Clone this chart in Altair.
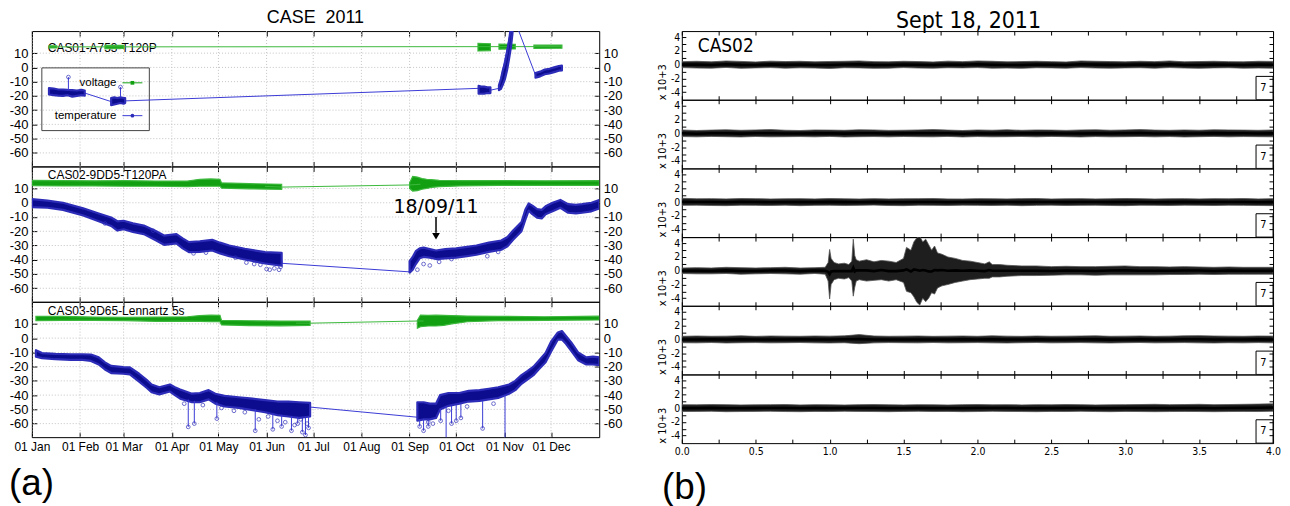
import json
import altair as alt
import pandas as pd

LFONT = "Liberation Sans, Arial, Helvetica, sans-serif"
RFONT = "DejaVu Sans Condensed, Liberation Sans Narrow, Arial Narrow, DejaVu Sans, sans-serif"
BLUE = "#0c0c8e"
BLUE_EDGE = "#2c2cb8"
BLUE_THIN = "#3a3ad6"
GREEN = "#12a012"
GREEN_EDGE = "#3cb83c"
GRID = "#c4c4c4"

# ---------------- (a) CASE 2011 : day-of-year positions ----------------
MONTH_DAYS = [0, 31, 59, 90, 120, 151, 181, 212, 243, 273, 304, 334]
MONTH_NAMES = ["Jan", "Feb", "Mar", "Apr", "May", "Jun", "Jul", "Aug", "Sep", "Oct", "Nov", "Dec"]
TEMP_GRID = [-60, -50, -40, -30, -20, -10, 0, 10]
PANEL_NAMES = ["CAS01-A753-T120P", "CAS02-9DD5-T120PA", "CAS03-9D65-Lennartz 5s"]

# Panel 1 (CAS01)
P1_VOLT_BLOB_SEG = [0, 0, 1, 1, 2, 2, 3, 3, 4, 4]
P1_VOLT_BLOB_DAY = [11, 16, 47, 59, 287, 295, 300.5, 311, 323, 341]
P1_VOLT_BLOB_LO = [13.6, 13.6, 13.2, 13.3, 11.5, 11.8, 12.8, 13.0, 13.4, 13.5]
P1_VOLT_BLOB_HI = [15.2, 15.2, 15.5, 15.4, 16.8, 16.6, 16.3, 16.2, 15.6, 15.7]
P1_VOLT_LINE_DAY = [11, 341]
P1_VOLT_LINE_V = [14.4, 14.6]
P1_TEMP_A_DAY = [11, 14, 17, 20, 23, 26, 29, 32, 34]
P1_TEMP_A_LO = [-19, -19.5, -19.8, -20, -19.5, -20.5, -20, -19.5, -19.8]
P1_TEMP_A_HI = [-14.5, -14.8, -15.5, -15.5, -15.8, -16, -16.2, -15.8, -16.2]
P1_TEMP_B_DAY = [51, 53, 55, 57, 59, 60]
P1_TEMP_B_LO = [-26.5, -26, -25.5, -25, -25.5, -25]
P1_TEMP_B_HI = [-21.5, -21, -21.5, -21, -21.5, -21.5]
P1_TEMP_C_DAY = [287.4, 289, 291, 293, 295]
P1_TEMP_C_LO = [-18.5, -18.5, -18.5, -18, -18]
P1_TEMP_C_HI = [-13, -13.5, -13.5, -14, -14]
P1_TEMP_D_DAY = [300.5, 301.8, 303, 304.4, 305.7, 307, 308.3, 309.2]
P1_TEMP_D_LO = [-16, -15, -12, -8, -2, 6, 15, 24]
P1_TEMP_D_HI = [-12.5, -8, -2, 3, 10, 19, 29, 34]
P1_TEMP_E_DAY = [324, 327, 330, 333, 336, 339, 341]
P1_TEMP_E_LO = [-7.2, -6.3, -4.8, -4.3, -3.3, -2.3, -2.1]
P1_TEMP_E_HI = [-3.9, -3, -1.5, -1, 0, 1, 1.2]
P1_TEMP_LINE_DAY = [34, 51, 60, 287.4, 295, 300.5, 309.2, 311, 324]
P1_TEMP_LINE_V = [-18, -24, -23.5, -14.7, -16, -14.7, 32, 32, -5.4]
P1_SPIKE_DAY = [23.5, 57]
P1_SPIKE_FROM = [-16, -21]
P1_SPIKE_TO = [-6.8, -13.8]

# Panel 2 (CAS02)
P2_VOLT_A_DAY = [0, 20, 40, 60, 80, 100, 108, 115, 121, 122, 140, 160.7]
P2_VOLT_A_LO = [12.0, 11.8, 11.8, 11.6, 11.6, 11.3, 11.6, 11.6, 11.6, 10.3, 9.8, 9.4]
P2_VOLT_A_HI = [15.7, 15.6, 15.4, 15.5, 15.2, 15.2, 16.5, 16.7, 16.5, 14.0, 13.4, 13.0]
P2_VOLT_B_DAY = [243, 245, 248, 251, 254, 257, 262, 275, 300, 330, 365]
P2_VOLT_B_LO = [10, 8.2, 8.5, 9.5, 10, 10.8, 11.3, 11.8, 12.2, 12.2, 12.2]
P2_VOLT_B_HI = [14, 18.5, 18, 17, 16.5, 16.2, 15.8, 15.6, 15.5, 15.4, 15.5]
P2_VOLT_LINE_DAY = [150, 160.7, 243, 250]
P2_VOLT_LINE_V = [11.5, 11, 12.5, 13]
P2_TEMP_A_DAY = [0, 10, 20, 33, 43, 51, 55, 59, 65, 72, 80, 85, 93, 97, 101, 108, 116, 121, 127, 137, 150, 160.7]
P2_TEMP_A_LO = [-3, -3.5, -5, -8.9, -13, -16.3, -19.5, -18.6, -20.5, -22, -26.5, -29.5, -28.5, -32, -34.6, -34.5, -33.5, -35.5, -37.5, -39.8, -42.6, -44.2]
P2_TEMP_A_HI = [2.5, 1.5, 0, -3.9, -7.5, -10.3, -13, -12.6, -14.5, -16, -20, -23, -22, -25, -27.6, -27, -26, -28, -30, -32.3, -34.6, -35.2]
P2_TEMP_B_DAY = [243, 245, 247, 249.5, 252, 256, 260, 266, 273, 280, 286, 294, 302, 306, 309.6, 315, 317.6, 319.6, 322, 325, 328, 330.5, 335, 340, 345, 350, 354, 360, 365]
P2_TEMP_B_LO = [-49, -47, -43, -39, -38, -38.5, -39.5, -39, -38.5, -37.5, -36.5, -34.5, -33, -30.5, -26, -20, -11.5, -5.5, -8, -10.5, -11, -8, -6, -3.5, -7, -7.5, -7, -6, -4]
P2_TEMP_B_HI = [-41, -38, -34, -32, -31.5, -32.5, -33.5, -32.5, -32, -31, -30, -28, -26.5, -24, -19.5, -13.5, -4.5, -0.5, -2, -4.5, -5, -2.5, 0, 2, -1, -1.5, -1, 0, 2]
P2_TEMP_LINE_DAY = [160.7, 161, 243, 244]
P2_TEMP_LINE_V = [-40, -42.5, -48.5, -45]
P2_OUT_DAY = [47, 78, 104, 112, 131, 138, 143, 147, 151, 153, 156, 159, 160, 248, 252, 256, 262, 270, 293, 300]
P2_OUT_V = [-14.5, -19.6, -35.5, -35, -38.5, -42, -43, -43.5, -46.5, -47, -46, -47, -45, -47, -43, -44, -41.5, -39.5, -37.5, -34.5]

# Panel 3 (CAS03)
P3_VOLT_A_DAY = [2.6, 20, 40, 60, 80, 100, 108, 115, 121, 122, 140, 160, 179]
P3_VOLT_A_LO = [12.3, 12.5, 12.5, 12.3, 11.8, 12, 11.8, 11.5, 11.5, 9.3, 8.8, 8.6, 9]
P3_VOLT_A_HI = [15.3, 15.2, 14.8, 14.6, 14.8, 15, 15.8, 16.2, 16, 12.5, 12.2, 12, 12]
P3_VOLT_B_DAY = [248, 250, 255, 260, 265, 270, 280, 300, 330, 365]
P3_VOLT_B_LO = [7, 8, 8.5, 8.5, 9, 10, 11.5, 12.3, 12.5, 12.8]
P3_VOLT_B_HI = [12.5, 16.2, 16, 16.2, 16, 15.8, 15.5, 15.3, 15, 15.5]
P3_VOLT_LINE_DAY = [170, 179, 248, 252]
P3_VOLT_LINE_V = [10.5, 10.5, 12, 12]
P3_TEMP_A_DAY = [2.6, 6.5, 15, 25, 32.7, 38, 43, 47, 51, 58.8, 63, 69, 74, 77, 82, 88.8, 92, 95.4, 103, 108, 113.7, 118, 124, 133, 142, 150, 158, 165, 172, 179]
P3_TEMP_A_LO = [-13, -14, -14.8, -15.3, -15.3, -16, -18.5, -22, -24.5, -25, -25.5, -30.5, -35, -38, -39.5, -37.5, -40, -42.5, -45, -45, -43, -46, -48, -49, -50.5, -52, -54, -55, -56, -55]
P3_TEMP_A_HI = [-8.5, -10.5, -11, -11.3, -11.3, -11.5, -13.5, -17, -19.5, -20.3, -20.5, -25, -29.5, -32.5, -34.5, -32.5, -34.5, -36, -39, -38.5, -36.5, -39, -40.5, -41.5, -42.5, -43.5, -44.5, -44.5, -45, -45.5]
P3_TEMP_B_DAY = [248, 252, 256, 260, 262.6, 268, 275, 281, 288, 294, 300, 307, 311, 315, 319, 322.7, 326, 330.5, 334, 338.4, 341, 343.6, 347, 351.4, 356.7, 361, 365]
P3_TEMP_B_LO = [-58, -57, -57, -56, -50, -47.5, -46, -44.5, -44, -43, -42, -39, -36.5, -32, -29, -26, -22, -17, -9.5, -1, -1, -4, -9, -15.5, -18.5, -18.5, -19]
P3_TEMP_B_HI = [-45, -45, -46, -46, -40, -38.5, -38.5, -37, -36.5, -35.5, -34.5, -32.5, -30, -26, -23, -20, -16, -10.5, -2.5, 4, 5, 1.5, -3, -10, -13.5, -13, -13.5]
P3_TEMP_LINE_DAY = [179, 248]
P3_TEMP_LINE_V = [-48.4, -55.5]
P3_SPIKE_DAY = [100.6, 104.5, 119, 143.7, 155, 160.7, 167, 171, 174, 176, 178, 249.5, 252, 255, 263, 266.5, 270, 273, 276, 290, 304.4]
P3_SPIKE_FROM = [-43, -44, -45, -50, -53, -54, -55, -55.5, -56, -56, -55, -57, -57, -57, -50, -48, -47.5, -47, -46, -44, -40]
P3_SPIKE_TO = [-62.3, -60, -56.5, -65, -64, -62, -65, -60, -66, -68, -63, -62, -65, -62, -58, -75, -60, -58, -56, -63.4, -75]
P3_OUT_DAY = [98, 110, 122, 130, 137, 146, 152, 158, 163, 169, 173, 177, 255, 258, 268, 280, 297]
P3_OUT_V = [-46, -47, -49, -51, -52, -57, -55, -58, -59, -61, -57, -60, -59, -60, -51, -48, -46]

ANNOT_DAY = [260]
ANNOT_TEXT = "18/09/11"

# ---------------- (b) Sept 18, 2011 : seismograms (x 10+3) ----------------
SEIS_T = [0.0, 0.1, 0.2, 0.3, 0.4, 0.5, 0.6, 0.7, 0.8, 0.9, 1.0, 1.1, 1.2, 1.3, 1.4, 1.5, 1.6, 1.7, 1.8, 1.9, 2.0,
          2.1, 2.2, 2.3, 2.4, 2.5, 2.6, 2.7, 2.8, 2.9, 3.0, 3.1, 3.2, 3.3, 3.4, 3.5, 3.6, 3.7, 3.8, 3.9, 4.0]
CH1_HI = [0.45, 0.5, 0.42, 0.55, 0.48, 0.4, 0.52, 0.46, 0.5, 0.42, 0.47, 0.5, 0.55, 0.45, 0.42, 0.5, 0.46, 0.4, 0.52, 0.45, 0.55, 0.5, 0.42, 0.46, 0.5, 0.45, 0.4, 0.55, 0.5, 0.46, 0.42, 0.5, 0.45, 0.55, 0.42, 0.46, 0.5, 0.45, 0.42, 0.5, 0.48]
CH1_LO = [-0.42, -0.48, -0.5, -0.4, -0.52, -0.46, -0.42, -0.5, -0.45, -0.48, -0.55, -0.44, -0.46, -0.52, -0.5, -0.42, -0.48, -0.5, -0.44, -0.46, -0.42, -0.5, -0.48, -0.52, -0.44, -0.46, -0.5, -0.42, -0.48, -0.5, -0.46, -0.44, -0.5, -0.42, -0.48, -0.52, -0.46, -0.44, -0.5, -0.48, -0.5]
CH2_HI = [0.5, 0.42, 0.48, 0.52, 0.45, 0.5, 0.55, 0.46, 0.42, 0.5, 0.48, 0.45, 0.52, 0.5, 0.44, 0.46, 0.5, 0.55, 0.48, 0.42, 0.5, 0.46, 0.52, 0.45, 0.5, 0.48, 0.44, 0.5, 0.52, 0.46, 0.5, 0.55, 0.48, 0.45, 0.5, 0.46, 0.52, 0.5, 0.48, 0.45, 0.5]
CH2_LO = [-0.46, -0.5, -0.44, -0.48, -0.52, -0.45, -0.5, -0.48, -0.46, -0.5, -0.44, -0.52, -0.48, -0.46, -0.5, -0.45, -0.48, -0.5, -0.44, -0.52, -0.46, -0.5, -0.48, -0.45, -0.5, -0.44, -0.48, -0.52, -0.46, -0.5, -0.48, -0.45, -0.5, -0.46, -0.52, -0.48, -0.44, -0.5, -0.46, -0.48, -0.5]
CH3_HI = [0.55, 0.48, 0.5, 0.46, 0.52, 0.5, 0.45, 0.48, 0.5, 0.46, 0.52, 0.48, 0.45, 0.5, 0.46, 0.48, 0.5, 0.52, 0.46, 0.45, 0.5, 0.48, 0.46, 0.5, 0.52, 0.45, 0.48, 0.5, 0.46, 0.48, 0.52, 0.5, 0.45, 0.48, 0.5, 0.46, 0.5, 0.48, 0.52, 0.46, 0.5]
CH3_LO = [-0.48, -0.45, -0.5, -0.52, -0.46, -0.48, -0.5, -0.45, -0.52, -0.48, -0.46, -0.5, -0.48, -0.44, -0.5, -0.52, -0.46, -0.48, -0.5, -0.45, -0.48, -0.5, -0.46, -0.52, -0.48, -0.45, -0.5, -0.48, -0.46, -0.5, -0.52, -0.46, -0.48, -0.5, -0.45, -0.48, -0.5, -0.46, -0.48, -0.5, -0.52]
CH5_HI = [0.45, 0.5, 0.46, 0.48, 0.52, 0.45, 0.5, 0.48, 0.46, 0.5, 0.48, 0.52, 0.7, 0.5, 0.46, 0.48, 0.5, 0.45, 0.48, 0.5, 0.46, 0.52, 0.48, 0.45, 0.5, 0.46, 0.48, 0.5, 0.52, 0.46, 0.48, 0.5, 0.45, 0.48, 0.52, 0.55, 0.5, 0.48, 0.46, 0.5, 0.48]
CH5_LO = [-0.48, -0.5, -0.45, -0.52, -0.48, -0.46, -0.5, -0.48, -0.45, -0.5, -0.52, -0.48, -0.62, -0.5, -0.46, -0.48, -0.5, -0.45, -0.5, -0.48, -0.46, -0.5, -0.52, -0.48, -0.45, -0.5, -0.48, -0.46, -0.5, -0.52, -0.48, -0.45, -0.5, -0.48, -0.46, -0.5, -0.52, -0.48, -0.5, -0.46, -0.5]
CH6_HI = [0.5, 0.48, 0.52, 0.5, 0.46, 0.48, 0.5, 0.52, 0.46, 0.5, 0.48, 0.45, 0.5, 0.52, 0.48, 0.46, 0.5, 0.48, 0.45, 0.5, 0.52, 0.48, 0.5, 0.46, 0.5, 0.48, 0.52, 0.5, 0.46, 0.48, 0.5, 0.52, 0.55, 0.5, 0.52, 0.55, 0.5, 0.52, 0.55, 0.58, 0.62]
CH6_LO = [-0.5, -0.48, -0.46, -0.52, -0.5, -0.48, -0.46, -0.5, -0.52, -0.48, -0.5, -0.46, -0.48, -0.5, -0.52, -0.48, -0.46, -0.5, -0.48, -0.52, -0.5, -0.46, -0.48, -0.5, -0.52, -0.48, -0.5, -0.46, -0.5, -0.52, -0.48, -0.5, -0.52, -0.5, -0.48, -0.5, -0.52, -0.5, -0.48, -0.5, -0.45]
CH4_T = [0.0, 0.1, 0.2, 0.3, 0.4, 0.5, 0.6, 0.7, 0.8, 0.9, 0.97, 0.99, 1.0, 1.01, 1.03, 1.06, 1.1, 1.13, 1.15, 1.16,
         1.17, 1.18, 1.2, 1.25, 1.3, 1.35, 1.4, 1.45, 1.5, 1.52, 1.55, 1.57, 1.59, 1.61, 1.63, 1.65, 1.67, 1.69, 1.71, 1.73,
         1.76, 1.8, 1.85, 1.9, 1.95, 2.0, 2.05, 2.08, 2.1, 2.15, 2.2, 2.3, 2.4, 2.5, 2.6, 2.7, 2.8, 2.9, 3.0, 3.1,
         3.2, 3.3, 3.4, 3.5, 3.6, 3.7, 3.8, 3.9, 4.0]
CH4_HI = [0.4, 0.45, 0.4, 0.5, 0.45, 0.4, 0.45, 0.5, 0.4, 0.45, 0.5, 1.2, 3.1, 1.8, 1.2, 1.0, 1.1, 0.9, 1.4, 4.6,
          2.2, 1.6, 1.4, 1.6, 1.3, 1.5, 1.4, 1.2, 1.8, 3.4, 3.0, 4.2, 4.8, 5.0, 4.2, 4.6, 3.8, 3.0, 3.6, 2.6,
          2.4, 2.0, 1.8, 1.5, 1.4, 1.2, 1.0, 1.3, 0.9, 0.9, 0.8, 0.7, 0.7, 0.6, 0.65, 0.6, 0.6, 0.65, 0.7, 0.6,
          0.6, 0.55, 0.6, 0.55, 0.5, 0.55, 0.5, 0.5, 0.5]
CH4_LO = [-0.4, -0.45, -0.45, -0.4, -0.5, -0.45, -0.4, -0.45, -0.5, -0.4, -0.5, -1.5, -4.1, -2.0, -1.3, -1.1, -1.2, -1.0, -1.5, -3.7,
          -2.4, -1.5, -1.3, -1.5, -1.4, -1.3, -1.5, -1.3, -1.7, -3.0, -3.2, -3.8, -4.6, -5.0, -4.0, -4.5, -4.0, -3.2, -3.4, -2.5,
          -2.2, -2.0, -1.7, -1.5, -1.3, -1.2, -1.1, -1.1, -0.9, -0.9, -0.8, -0.7, -0.7, -0.65, -0.6, -0.6, -0.65, -0.6, -0.6, -0.6,
          -0.6, -0.55, -0.55, -0.5, -0.55, -0.5, -0.5, -0.5, -0.5]
RX_TICKS = [0.0, 0.25, 0.5, 0.75, 1.0, 1.25, 1.5, 1.75, 2.0, 2.25, 2.5, 2.75, 3.0, 3.25, 3.5, 3.75, 4.0]
RY_TICKS = [-4, -3, -2, -1, 0, 1, 2, 3, 4]
BOX_T = [3.885, 4.0]
BOX_V = [-5.1, -1.7]
BOX_LABEL = ("7", 3.935, -3.4)

# ---------------- helpers ----------------
ONE = pd.DataFrame({"k": [0]})
XS = alt.Scale(domain=[0, 365], nice=False, zero=False)
YS = alt.Scale(domain=[-69.5, 25.5], nice=False, zero=False)
RXS = alt.Scale(domain=[0, 4], nice=False, zero=False)
RYS = alt.Scale(domain=[-5.1, 4.9], nice=False, zero=False)
MONTH_EXPR = "'01 ' + %s[indexof(%s, datum.value)]" % (json.dumps(MONTH_NAMES), json.dumps(MONTH_DAYS))


def tick_axis(orient, values, labels=False, **kw):
    base = dict(orient=orient, values=values, tickSize=5, offset=-5, tickColor="black", tickWidth=1,
                domain=False, grid=False, title=None, labels=labels)
    base.update(kw)
    return alt.Axis(**base)


def segs_df(*segs):
    rows = []
    for k, (d, lo, hi) in enumerate(segs):
        for a, b, c in zip(d, lo, hi):
            rows.append({"seg": k, "day": a, "lo": b, "hi": c})
    return pd.DataFrame(rows)


def pts_df(d, v):
    return pd.DataFrame([{"day": a, "v": b} for a, b in zip(d, v)])


def px_text(x, y, s, **kw):
    return alt.Chart(ONE).mark_text(**kw).encode(x=alt.value(x), y=alt.value(y), text=alt.value(s))


def left_panel(name, name_y, volt_df, volt_line, temp_df, temp_line, spikes, outliers, show_x, extra_back, extra_front):
    vgrid = alt.Chart(pd.DataFrame({"day": MONTH_DAYS})).mark_rule(color=GRID, strokeDash=[1, 2], strokeWidth=1).encode(
        x=alt.X("day:Q", scale=XS, axis=tick_axis("bottom", MONTH_DAYS, labels=show_x, labelExpr=MONTH_EXPR,
                                                   labelFont=LFONT, labelFontSize=12, labelColor="black",
                                                   labelPadding=4, labelFlush=False, labelOverlap=False)))
    hgrid = alt.Chart(pd.DataFrame({"v": TEMP_GRID})).mark_rule(color=GRID, strokeDash=[1, 2], strokeWidth=1).encode(
        y=alt.Y("v:Q", scale=YS, axis=tick_axis("left", TEMP_GRID, labels=True, labelExpr="'' + datum.value",
                                                 labelFont=LFONT, labelFontSize=13, labelColor="black", labelPadding=4)))
    label = px_text(16, name_y, name, align="left", baseline="middle", font=LFONT, fontSize=12, color="black")
    volt_area = alt.Chart(volt_df).mark_area(color=GREEN, stroke=GREEN_EDGE, strokeWidth=1.2, clip=True).encode(
        x=alt.X("day:Q", scale=XS, axis=tick_axis("top", MONTH_DAYS)),
        y=alt.Y("lo:Q", scale=YS, axis=tick_axis("right", TEMP_GRID, labels=True, labelExpr="'' + datum.value",
                                                  labelFont=LFONT, labelFontSize=13, labelColor="black", labelPadding=4)),
        y2=alt.Y2("hi"), detail="seg:N")
    volt_thin = alt.Chart(volt_line).mark_line(color=GREEN_EDGE, strokeWidth=1, clip=True).encode(
        x=alt.X("day:Q", scale=XS, axis=None), y=alt.Y("v:Q", scale=YS, axis=None))
    temp_thin = alt.Chart(temp_line).mark_line(color=BLUE_THIN, strokeWidth=1, clip=True).encode(
        x=alt.X("day:Q", scale=XS, axis=None), y=alt.Y("v:Q", scale=YS, axis=None))
    temp_area = alt.Chart(temp_df).mark_area(color=BLUE, stroke=BLUE_EDGE, strokeWidth=2.2, strokeJoin="round",
                                             clip=True).encode(
        x=alt.X("day:Q", scale=XS, axis=None), y=alt.Y("lo:Q", scale=YS, axis=None), y2=alt.Y2("hi"), detail="seg:N")
    layers = [vgrid, hgrid, label] + extra_back + [volt_area, volt_thin, temp_thin, temp_area]
    if spikes is not None:
        layers.append(alt.Chart(spikes).mark_rule(color=BLUE_THIN, strokeWidth=1, clip=True).encode(
            x=alt.X("day:Q", scale=XS, axis=None), y=alt.Y("from:Q", scale=YS, axis=None), y2=alt.Y2("to")))
        layers.append(alt.Chart(spikes).mark_point(shape="circle", size=14, color=BLUE_EDGE, strokeWidth=1, clip=True).encode(
            x=alt.X("day:Q", scale=XS, axis=None), y=alt.Y("to:Q", scale=YS, axis=None)))
    if outliers is not None:
        layers.append(alt.Chart(outliers).mark_point(shape="circle", size=14, color=BLUE_EDGE, strokeWidth=1, clip=True).encode(
            x=alt.X("day:Q", scale=XS, axis=None), y=alt.Y("v:Q", scale=YS, axis=None)))
    layers += extra_front
    return alt.layer(*layers).resolve_axis(x="independent", y="independent").properties(width=570, height=136)


def spikes_df(d, f, t):
    return pd.DataFrame([{"day": a, "from": b, "to": c} for a, b, c in zip(d, f, t)])


# panel 1 legend (gnuplot style, inside the plot)
legend_back = [
    alt.Chart(ONE).mark_rect(fill="transparent", stroke="#444444", strokeWidth=1).encode(
        x=alt.value(10), x2=alt.value(118), y=alt.value(37), y2=alt.value(100)),
    px_text(85, 52, "voltage", align="right", baseline="middle", font=LFONT, fontSize=11.5, color="black"),
    px_text(85, 85, "temperature", align="right", baseline="middle", font=LFONT, fontSize=11.5, color="black"),
]
legend_front = [
    alt.Chart(ONE).mark_rule(color=GREEN, strokeWidth=1).encode(x=alt.value(91), x2=alt.value(111), y=alt.value(52)),
    alt.Chart(ONE).mark_square(size=14, color=GREEN, opacity=1).encode(x=alt.value(101), y=alt.value(52)),
    alt.Chart(ONE).mark_rule(color=BLUE_THIN, strokeWidth=1).encode(x=alt.value(91), x2=alt.value(111), y=alt.value(85)),
    alt.Chart(ONE).mark_circle(size=14, color=BLUE_EDGE, opacity=1).encode(x=alt.value(101), y=alt.value(85)),
]

p1_volt = pd.DataFrame([{"seg": s, "day": d, "lo": lo, "hi": hi} for s, d, lo, hi in
                        zip(P1_VOLT_BLOB_SEG, P1_VOLT_BLOB_DAY, P1_VOLT_BLOB_LO, P1_VOLT_BLOB_HI)])
p1 = left_panel(PANEL_NAMES[0], 17, p1_volt, pts_df(P1_VOLT_LINE_DAY, P1_VOLT_LINE_V),
                segs_df((P1_TEMP_A_DAY, P1_TEMP_A_LO, P1_TEMP_A_HI), (P1_TEMP_B_DAY, P1_TEMP_B_LO, P1_TEMP_B_HI),
                        (P1_TEMP_C_DAY, P1_TEMP_C_LO, P1_TEMP_C_HI), (P1_TEMP_D_DAY, P1_TEMP_D_LO, P1_TEMP_D_HI),
                        (P1_TEMP_E_DAY, P1_TEMP_E_LO, P1_TEMP_E_HI)),
                pts_df(P1_TEMP_LINE_DAY, P1_TEMP_LINE_V), spikes_df(P1_SPIKE_DAY, P1_SPIKE_FROM, P1_SPIKE_TO), None,
                False, legend_back, legend_front)

annot = pd.DataFrame({"day": ANNOT_DAY, "txt_v": [-3.3], "top": [-10], "bot": [-21], "head": [-23.5], "txt": [ANNOT_TEXT]})
annot_layers = [
    alt.Chart(annot).mark_text(font="DejaVu Sans", fontSize=19, color="black", baseline="middle").encode(
        x=alt.X("day:Q", scale=XS, axis=None), y=alt.Y("txt_v:Q", scale=YS, axis=None), text="txt:N"),
    alt.Chart(annot).mark_rule(color="black", strokeWidth=1.5).encode(
        x=alt.X("day:Q", scale=XS, axis=None), y=alt.Y("top:Q", scale=YS, axis=None), y2=alt.Y2("bot")),
    alt.Chart(annot).mark_point(shape="triangle-down", filled=True, size=60, color="black", opacity=1).encode(
        x=alt.X("day:Q", scale=XS, axis=None), y=alt.Y("head:Q", scale=YS, axis=None)),
]
p2 = left_panel(PANEL_NAMES[1], 9,
                segs_df((P2_VOLT_A_DAY, P2_VOLT_A_LO, P2_VOLT_A_HI), (P2_VOLT_B_DAY, P2_VOLT_B_LO, P2_VOLT_B_HI)),
                pts_df(P2_VOLT_LINE_DAY, P2_VOLT_LINE_V),
                segs_df((P2_TEMP_A_DAY, P2_TEMP_A_LO, P2_TEMP_A_HI), (P2_TEMP_B_DAY, P2_TEMP_B_LO, P2_TEMP_B_HI)),
                pts_df(P2_TEMP_LINE_DAY, P2_TEMP_LINE_V), None, pts_df(P2_OUT_DAY, P2_OUT_V),
                False, [], annot_layers)

p3 = left_panel(PANEL_NAMES[2], 9,
                segs_df((P3_VOLT_A_DAY, P3_VOLT_A_LO, P3_VOLT_A_HI), (P3_VOLT_B_DAY, P3_VOLT_B_LO, P3_VOLT_B_HI)),
                pts_df(P3_VOLT_LINE_DAY, P3_VOLT_LINE_V),
                segs_df((P3_TEMP_A_DAY, P3_TEMP_A_LO, P3_TEMP_A_HI), (P3_TEMP_B_DAY, P3_TEMP_B_LO, P3_TEMP_B_HI)),
                pts_df(P3_TEMP_LINE_DAY, P3_TEMP_LINE_V), spikes_df(P3_SPIKE_DAY, P3_SPIKE_FROM, P3_SPIKE_TO),
                pts_df(P3_OUT_DAY, P3_OUT_V), True, [],
                [px_text(-23, 183, "(a)", align="left", baseline="middle", font=LFONT, fontSize=37, color="black")])

left = alt.vconcat(p1, p2, p3, spacing=0, bounds="flush").properties(
    title=alt.TitleParams("CASE\u00a0\u00a02011", font=LFONT, fontSize=18, fontWeight="normal", anchor="middle",
                          offset=3, color="black"))

RH = 69


def right_panel(t, hi, lo, show_x, extra):
    df = pd.DataFrame([{"t": a, "hi": b, "lo": c, "mid": (b + c) / 2.0} for a, b, c in zip(t, hi, lo)])
    trace = alt.Chart(df).mark_area(color="#1e1e1e", stroke="#555555", strokeWidth=0.8, clip=True).encode(
        x=alt.X("t:Q", scale=RXS, axis=tick_axis(
            "bottom", RX_TICKS, labels=show_x, tickSize=4, offset=-4,
            labelExpr="datum.value % 0.5 === 0 ? format(datum.value, '.1f') : ''",
            labelFont=RFONT, labelFontSize=10.5, labelColor="black", labelPadding=3,
            labelFlush=False, labelOverlap=False)),
        y=alt.Y("lo:Q", scale=RYS, axis=tick_axis(
            "left", RY_TICKS, labels=True, tickSize=4, offset=-4,
            labelExpr="datum.value % 2 === 0 ? '' + datum.value : ''",
            labelFont=RFONT, labelFontSize=10.5, labelColor="black", labelPadding=2,
            title="x 10+3", titleFont=RFONT, titleFontSize=11, titleFontWeight="normal",
            titleAnchor="start", titlePadding=3, titleColor="black")),
        y2=alt.Y2("hi"))
    core = alt.Chart(df).mark_line(color="black", strokeWidth=2.6, clip=True).encode(
        x=alt.X("t:Q", scale=RXS, axis=None), y=alt.Y("mid:Q", scale=RYS, axis=None))
    box = alt.Chart(pd.DataFrame({"t0": [BOX_T[0]], "t1": [BOX_T[1]], "v0": [BOX_V[0]], "v1": [BOX_V[1]]})).mark_rect(
        fill="transparent", stroke="black", strokeWidth=1, clip=True).encode(
        x=alt.X("t0:Q", scale=RXS, axis=tick_axis("top", RX_TICKS, tickSize=4, offset=-4)), x2=alt.X2("t1"),
        y=alt.Y("v0:Q", scale=RYS, axis=tick_axis("right", RY_TICKS, tickSize=4, offset=-4)), y2=alt.Y2("v1"))
    seven = alt.Chart(pd.DataFrame({"t": [BOX_LABEL[1]], "v": [BOX_LABEL[2]], "s": [BOX_LABEL[0]]})).mark_text(
        font=RFONT, fontSize=11, color="black", baseline="middle").encode(
        x=alt.X("t:Q", scale=RXS, axis=None), y=alt.Y("v:Q", scale=RYS, axis=None), text="s:N")
    return alt.layer(trace, core, box, seven, *extra).resolve_axis(x="independent", y="independent").properties(
        width=594, height=RH)


right_panels = [
    right_panel(SEIS_T, CH1_HI, CH1_LO, False,
                [px_text(16, 15, "CAS02", align="left", baseline="middle", font=RFONT, fontSize=19, color="black")]),
    right_panel(SEIS_T, CH2_HI, CH2_LO, False, []),
    right_panel(SEIS_T, CH3_HI, CH3_LO, False, []),
    right_panel(CH4_T, CH4_HI, CH4_LO, False, []),
    right_panel(SEIS_T, CH5_HI, CH5_LO, False, []),
    right_panel(SEIS_T, CH6_HI, CH6_LO, True,
                [px_text(-20, 114, "(b)", align="left", baseline="middle", font=LFONT, fontSize=37, color="black")]),
]
right = alt.vconcat(*right_panels, spacing=0, bounds="flush").properties(
    title=alt.TitleParams("Sept 18, 2011", font=RFONT, fontSize=23, fontWeight="normal", anchor="middle",
                          offset=-3, color="black"))

chart = alt.hconcat(left, right, spacing=33).properties(
    padding={"left": 0, "top": 0, "right": 0, "bottom": 0}
).configure_view(stroke="black", strokeWidth=1)

chart.save("out.html", embed_options={"renderer": "svg", "actions": False})
